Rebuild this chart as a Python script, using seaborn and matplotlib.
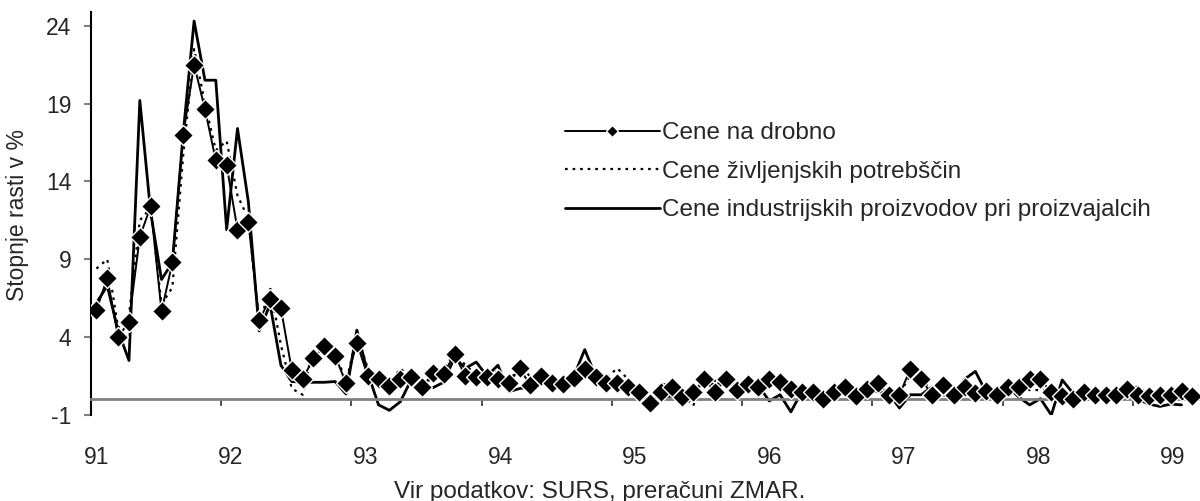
# Growth rates of prices 1991-1999, monthly
import numpy as np
import matplotlib
matplotlib.use("Agg")
import matplotlib.pyplot as plt
import matplotlib.transforms as mtransforms
import seaborn as sns

# monthly data Jan 1991 - Jun 1999
retail = [5.75, 7.8, 4.0, 5.0, 10.45, 12.4, 5.65, 8.8, 17.0, 21.5, 18.65, 15.35,
          15.05, 10.9, 11.4, 5.1, 6.45, 5.85, 1.9, 1.3, 2.65, 3.4, 2.8, 1.05,
          3.65, 1.5, 1.3, 0.88, 1.3, 1.42, 0.78, 1.68, 1.65, 2.9, 1.5, 1.42,
          1.42, 1.3, 1.03, 2.0, 0.9, 1.5, 1.03, 1.0, 1.4, 1.93, 1.42, 1.05,
          1.04, 0.78, 0.45, -0.2, 0.45, 0.82, 0.18, 0.45, 1.29, 0.5, 1.29, 0.6,
          0.97, 0.78, 1.29, 1.14, 0.65, 0.45, 0.45, 0.0, 0.45, 0.82, 0.24, 0.65,
          1.07, 0.3, 0.3, 1.93, 1.3, 0.3, 0.95, 0.3, 0.78, 0.4, 0.55, 0.3,
          0.78, 0.8, 1.29, 1.29, 0.45, 0.25, 0.05, 0.5, 0.3, 0.3, 0.3, 0.7,
          0.3, 0.25, 0.3, 0.3, 0.56, 0.2]
living = [8.4, 9.0, 4.6, 5.4, 11.5, 12.3, 6.1, 7.2, 15.7, 22.5, 19.0, 16.0,
          16.6, 13.1, 11.6, 4.8, 7.2, 3.5, 0.7, 0.3, 3.3, 3.3, 3.2, 1.0,
          4.2, 2.0, 1.5, 1.0, 2.0, 1.3, 0.7, 1.5, 1.9, 3.0, 2.2, 1.6,
          1.5, 1.8, 0.9, 2.4, 1.4, 1.5, 1.0, 1.1, 1.5, 2.0, 1.8, 1.4,
          2.0, 1.3, 0.5, -0.1, 1.05, 0.8, 0.3, -0.4, 1.3, 1.2, 1.3, 1.05,
          1.2, 0.6, 1.3, 1.2, 0.7, 0.5, 0.5, -0.6, 0.5, 0.9, 0.3, 0.7,
          0.8, 0.4, 0.4, 1.5, 1.4, 0.5, 0.2, 0.4, 0.9, 0.5, 0.7, 0.5,
          1.3, 0.9, 0.6, 0.6, 0.6, 0.3, 0.1, 0.5, 0.3, 0.3, 0.3, 0.8,
          0.8, 0.3, 0.3, 0.3, 0.6, 0.2]
industrial = [6.2, 7.3, 4.4, 2.5, 19.2, 12.0, 7.7, 8.8, 17.1, 24.3, 20.5, 20.5,
              10.9, 17.4, 12.7, 4.4, 6.1, 2.2, 1.15, 1.1, 1.1, 1.1, 1.15, 0.35,
              4.45, 1.7, -0.35, -0.7, -0.15, 1.25, 1.0, 0.75, 1.1, 2.7, 2.0, 2.4,
              1.5, 2.2, 0.5, 0.7, 0.8, 1.4, 1.0, 1.0, 1.5, 3.2, 1.5, 1.0,
              1.0, 0.7, 0.4, -0.1, 0.2, 0.2, 0.0, 0.35, 1.25, 0.9, 1.25, 0.9,
              1.1, 0.9, -0.1, 0.3, -0.8, 0.5, 0.45, 0.2, 0.45, 0.8, 0.3, 0.6,
              0.5, 0.4, -0.55, 0.3, 0.3, 0.8, 0.6, 0.4, 1.3, 1.8, 0.45, 0.4,
              0.8, 0.15, -0.35, 0.05, -1.0, 1.25, 0.4, 0.45, 0.3, 0.3, 0.3, 0.7,
              0.0, -0.3, -0.45, -0.3, -0.35, np.nan]

year_labels = ["91", "92", "93", "94", "95", "96", "97", "98", "99"]
yticks = [-1, 4, 9, 14, 19, 24]
names = ["Cene na drobno", "Cene življenjskih potrebščin",
         "Cene industrijskih proizvodov pri proizvajalcih"]

sns.set_style("white")
plt.rcParams["font.family"] = ["Liberation Sans", "DejaVu Sans"]
plt.rcParams["axes.unicode_minus"] = False
fs = 16.5      # tick labels, axis label
fs_wide = 17.5  # legend, caption

fig = plt.figure(figsize=(12, 5.01), dpi=100)
ax = fig.add_axes([91 / 1200, 1 - 415 / 501, 1109 / 1200, 403.3 / 501])

months = np.arange(len(retail))
sns.lineplot(x=months, y=industrial, ax=ax, color="black", lw=2.0,
             label=names[2], zorder=2)
sns.lineplot(x=months, y=living, ax=ax, color="black", lw=1.6,
             linestyle=(0, (1.2, 2.2)), label=names[1], zorder=3)
sns.lineplot(x=months, y=retail, ax=ax, color="black", lw=1.4,
             marker="D", markersize=10, markeredgecolor="white",
             markeredgewidth=1.0, label=names[0], zorder=4)

ax.set_xlim(-0.5, 101.7)
ax.set_ylim(-1, 24.9)

for side in ["top", "right"]:
    ax.spines[side].set_visible(False)
ax.spines["left"].set_color("black")
ax.spines["left"].set_linewidth(1.5)
ax.spines["bottom"].set_position(("data", 0))
ax.spines["bottom"].set_color("#808080")
ax.spines["bottom"].set_linewidth(2)

ax.set_yticks(yticks)
ax.tick_params(axis="y", left=True, length=5, width=1.5, color="#808080",
               pad=9, labelsize=fs)
ax.set_xticks(np.arange(11.5, 100, 12))
ax.tick_params(axis="x", bottom=True, length=5, width=1.2, color="#333333",
               labelbottom=False)
ax.set_xlabel("")
ax.set_ylabel("")

trans = mtransforms.blended_transform_factory(ax.transData, ax.transAxes)
for k, lab in enumerate(year_labels):
    ax.text(k * 12.4, -0.106, lab, transform=trans, ha="center", va="center",
            fontsize=fs)

handles, labels = ax.get_legend_handles_labels()
order = [labels.index(n) for n in names]
ax.legend([handles[i] for i in order], [labels[i] for i in order],
          loc="upper left", bbox_to_anchor=(565 / 1200, 1 - 122 / 501),
          bbox_transform=fig.transFigure, frameon=False, fontsize=fs_wide,
          handlelength=3.9, handletextpad=0.1, labelspacing=0.68,
          borderpad=0, borderaxespad=0, markerscale=0.6)

fig.text(18 / 1200, 1 - 215 / 501, "Stopnje rasti v %", rotation=90,
         ha="center", va="center", fontsize=fs)
fig.text(0.5, 1 - 492 / 501, "Vir podatkov: SURS, preračuni ZMAR.",
         ha="center", va="center", fontsize=fs_wide)

fig.savefig("out.png", dpi=100)
